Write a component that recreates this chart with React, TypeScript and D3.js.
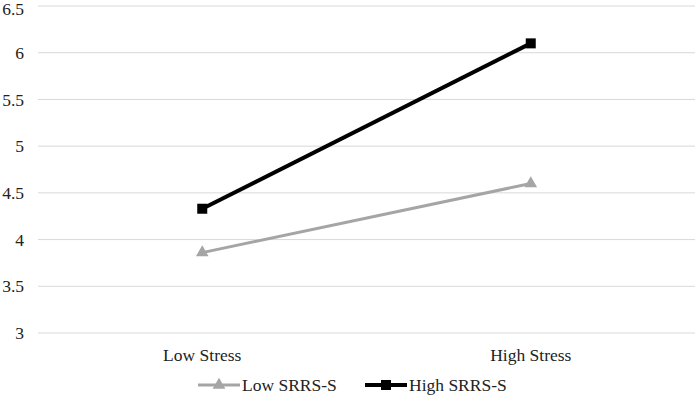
import React from "react";
import * as d3 from "d3";

const categories = ["Low Stress", "High Stress"];
const lowSRRS = [3.86, 4.6];
const highSRRS = [4.33, 6.1];
const yTicks = [3, 3.5, 4, 4.5, 5, 5.5, 6, 6.5];
const seriesNames = ["Low SRRS-S", "High SRRS-S"];

export default function App() {
  const W = 695, H = 404;
  const x = d3.scaleBand<string>().domain(categories).range([38, 695]);
  const y = d3.scaleLinear().domain([3, 6.5]).range([333, 6]);
  const cx = (c: string) => (x(c) as number) + x.bandwidth() / 2;
  const line = d3.line<number>().x((_, i) => cx(categories[i])).y((v) => y(v));
  const font = "Liberation Serif";
  const fs = 17.5;
  const gray = "#a5a5a5";
  const tri = d3.symbol(d3.symbolTriangle, 70)();
  const tp = { fontFamily: font, fontSize: fs, fill: "#222" };
  return (
    <div style={{ position: "absolute", left: 0, top: 0 }}>
      <svg width={W} height={H} style={{ display: "block" }}>
        <rect width={W} height={H} fill="#fff" />
        {yTicks.map((t) => (
          <g key={t}>
            <line x1={38} x2={695} y1={y(t)} y2={y(t)} stroke="#d9d9d9" strokeWidth={1} />
            <text x={24} y={Math.max(y(t), 9)} dy="0.35em" textAnchor="end" {...tp}>
              {t}
            </text>
          </g>
        ))}
        {categories.map((c) => (
          <text key={c} x={cx(c)} y={361} textAnchor="middle" {...tp}>
            {c}
          </text>
        ))}
        <path d={line(lowSRRS) || ""} fill="none" stroke={gray} strokeWidth={3} />
        {lowSRRS.map((v, i) => (
          <path key={i} d={tri || ""} transform={`translate(${cx(categories[i])},${y(v)})`} fill={gray} />
        ))}
        <path d={line(highSRRS) || ""} fill="none" stroke="#000" strokeWidth={4} />
        {highSRRS.map((v, i) => (
          <rect key={i} x={cx(categories[i]) - 5} y={y(v) - 5} width={10} height={10} fill="#000" />
        ))}
        <g>
          <line x1={198} x2={240} y1={385} y2={385} stroke={gray} strokeWidth={3} />
          <path d={tri || ""} transform={`translate(219,385)`} fill={gray} />
          <text x={242} y={385} dy="0.35em" {...tp}>{seriesNames[0]}</text>
          <line x1={365} x2={407} y1={385} y2={385} stroke="#000" strokeWidth={4} />
          <rect x={381} y={380} width={10} height={10} fill="#000" />
          <text x={409} y={385} dy="0.35em" {...tp}>{seriesNames[1]}</text>
        </g>
      </svg>
    </div>
  );
}
